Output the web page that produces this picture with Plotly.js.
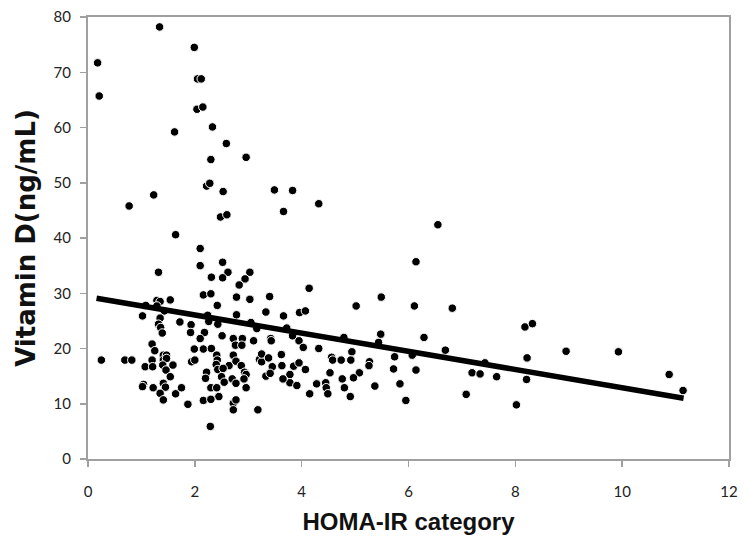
<!DOCTYPE html>
<html>
<head>
<meta charset="utf-8">
<script src="https://cdn.plot.ly/plotly-3.0.1.min.js"></script>
<style>html,body{margin:0;padding:0;background:#fff;}#chart{width:750px;height:548px;}</style>
</head>
<body>
<div id="chart"></div>
<script>
// HOMA-IR values (x) and Vitamin D values (y)
const homaIR = [
  0.18,0.21,1.34,1.99,2.05,2.12,2.04,2.15,1.62,2.33,2.59,2.30,2.96,2.22,2.28,2.53,3.49,3.83,3.66,1.23,0.77,2.48,2.60,1.64,2.10,4.32,6.55,
  8.18,8.32,8.22,8.21,8.02,8.95,9.93,10.88,11.14,
  6.14,4.14,3.96,4.07,5.02,5.49,6.11,6.82,3.83,3.95,4.03,4.32,4.79,4.94,5.44,5.48,6.29,6.69,5.74,6.07,7.43,3.85,3.95,4.07,3.78,3.78,3.91,
  4.56,4.58,4.74,4.92,4.53,5.08,5.27,5.26,4.76,4.97,4.28,4.45,4.46,4.49,4.80,4.91,4.15,5.37,5.72,5.84,5.95,6.14,7.19,7.34,7.65,7.08,
  2.10,2.52,2.62,2.52,3.03,2.94,2.83,2.31,1.32,2.16,2.30,2.78,3.03,3.40,2.42,1.29,1.35,1.54,1.08,1.29,1.43,1.02,1.35,1.32,1.36,1.39,
  1.72,1.93,1.92,2.24,2.26,2.43,2.18,2.10,2.51,2.78,3.05,3.16,3.33,3.66,3.72,2.72,2.89,2.76,2.88,3.10,3.42,3.43,
  1.20,1.25,0.25,0.69,0.82,1.20,1.07,1.21,1.41,1.47,1.41,1.47,1.40,1.59,1.46,1.54,1.04,1.02,1.22,1.41,1.45,1.35,1.41,1.64,1.75,1.87,
  1.94,2.00,1.99,2.16,2.31,2.41,2.42,2.22,2.20,2.40,2.43,2.50,2.64,2.55,2.30,2.41,2.45,2.16,2.30,2.29,2.72,2.77,2.87,2.93,2.96,2.70,
  2.77,2.96,2.72,2.77,2.72,3.18,3.21,3.25,3.25,3.38,3.45,3.33,3.41,3.62,3.63,3.65,2.92,2.53
];
const vitaminD = [
  71.7,65.7,78.2,74.5,68.8,68.8,63.3,63.7,59.2,60.1,57.1,54.2,54.6,49.4,49.9,48.4,48.7,48.6,44.8,47.8,45.8,43.8,44.2,40.6,38.1,46.2,42.4,
  23.9,24.5,18.3,14.4,9.8,19.5,19.4,15.3,12.4,
  35.7,30.9,26.5,26.8,27.7,29.3,27.7,27.3,22.3,21.4,20.2,20.0,22.0,19.4,21.1,22.6,22.0,19.7,18.5,18.8,17.4,16.8,17.4,16.2,15.3,13.8,13.3,
  18.4,17.9,17.9,17.9,15.6,15.6,17.6,16.9,14.5,14.7,13.6,13.8,12.9,11.8,12.9,11.3,11.8,13.2,16.3,13.6,10.6,16.1,15.6,15.4,14.9,11.7,
  35.0,35.6,33.8,32.8,33.8,32.6,31.5,32.9,33.8,29.7,29.9,29.3,28.9,29.4,27.8,28.7,28.5,28.8,27.8,27.7,26.8,25.9,25.5,24.4,23.8,22.8,
  24.8,24.3,22.9,26.0,24.9,24.4,22.9,21.8,22.3,26.1,24.7,23.6,26.6,25.9,23.7,21.8,21.8,20.6,20.6,21.4,21.8,21.4,
  20.8,19.6,17.9,17.9,17.9,17.9,16.7,16.7,18.8,18.8,17.9,18.2,17.0,17.0,16.1,14.9,13.5,13.1,12.9,13.7,13.0,11.9,10.7,11.8,12.9,9.9,
  17.6,17.9,19.9,19.9,20.0,18.8,17.9,15.7,14.6,17.1,16.2,14.9,16.9,13.9,12.9,12.9,11.3,10.6,10.8,5.9,18.8,17.7,16.9,15.7,15.3,14.5,
  13.7,12.9,10.1,10.7,8.9,8.9,18.0,17.6,19.0,18.3,16.7,15.0,15.5,18.9,16.9,14.5,14.5,16.4
];
// Fitted trend line end points
const trendX = [0.16, 11.15];
const trendY = [29.1, 11.0];
// Axis tick values
const xTicks = [0, 2, 4, 6, 8, 10, 12];
const yTicks = [0, 10, 20, 30, 40, 50, 60, 70, 80];

const traces = [
  {
    x: homaIR, y: vitaminD, type: 'scatter', mode: 'markers',
    marker: {color: '#000', size: 8.5, line: {color: '#fff', width: 1}},
    hoverinfo: 'x+y', showlegend: false
  },
  {
    x: trendX, y: trendY, type: 'scatter', mode: 'lines',
    line: {color: '#000', width: 5.5}, showlegend: false
  }
];

const xTitleFont = {family: 'Liberation Sans, Arial, sans-serif', size: 24, color: '#111', weight: 'bold'};
const yTitleFont = {family: 'DejaVu Sans, Liberation Sans, sans-serif', size: 26, color: '#111', weight: 'bold'};
const tickFont = {family: 'Lato, Open Sans, sans-serif', size: 15, color: '#222'};

const layout = {
  width: 750, height: 548,
  margin: {l: 88, r: 21, t: 17, b: 89},
  paper_bgcolor: '#fff', plot_bgcolor: '#fff',
  xaxis: {
    range: [0, 12], tickvals: xTicks, ticktext: xTicks.map(String),
    showgrid: false, zeroline: false,
    showline: true, linecolor: '#a0a0a0', linewidth: 2, mirror: true,
    ticks: 'outside', ticklen: 6, tickcolor: '#a0a0a0', tickwidth: 1.5,
    ticklabelstandoff: 12,
    tickfont: tickFont,
    title: {text: '<b>HOMA-IR category</b>', font: xTitleFont, standoff: 14}
  },
  yaxis: {
    range: [0, 80], tickvals: yTicks, ticktext: yTicks.map(String),
    showgrid: false, zeroline: false,
    showline: true, linecolor: '#a0a0a0', linewidth: 2, mirror: true,
    ticks: 'outside', ticklen: 6, tickcolor: '#a0a0a0', tickwidth: 1.5,
    ticklabelstandoff: 6,
    tickfont: tickFont,
    title: {text: '<b>Vitamin D(ng/mL)</b>', font: yTitleFont, standoff: 10}
  }
};

Plotly.newPlot('chart', traces, layout, {displayModeBar: false, staticPlot: true});
</script>
</body>
</html>
